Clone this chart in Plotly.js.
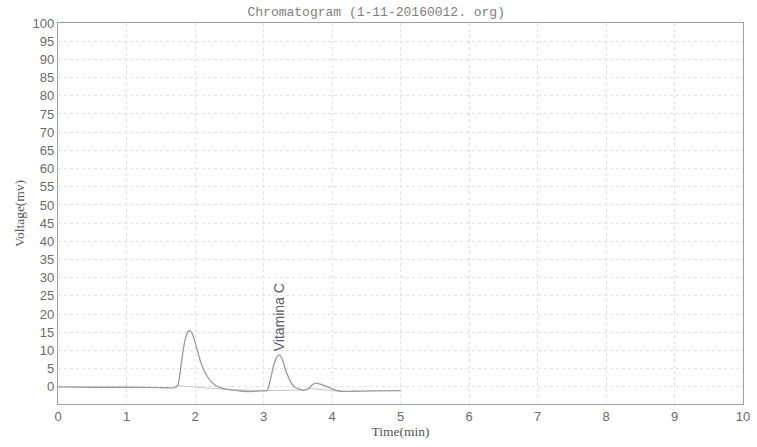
<!DOCTYPE html>
<html><head><meta charset="utf-8">
<script src="https://cdn.plot.ly/plotly-3.0.1.min.js"></script>
<style>html,body{margin:0;padding:0;background:#fff}</style>
</head><body><div id="c" style="width:757px;height:447px"></div>
<script>
var timeMin = [0, 0.5, 1.0, 1.5, 1.7, 1.75, 1.8, 1.85, 1.9, 1.93, 1.97, 2.02, 2.08, 2.15, 2.22, 2.3, 2.4, 2.55, 2.7, 2.8, 2.95, 3.05, 3.1, 3.15, 3.2, 3.23, 3.27, 3.32, 3.38, 3.44, 3.52, 3.6, 3.66, 3.7, 3.75, 3.8, 3.88, 3.96, 4.04, 4.12, 4.3, 4.6, 5.0];
var voltage = [0, -0.1, -0.1, -0.2, -0.2, 0.5, 6.5, 12.5, 15.2, 15.4, 14.2, 11.0, 7.0, 3.8, 1.8, 0.4, -0.4, -0.9, -1.2, -1.3, -1.1, -1.0, 2.0, 6.0, 8.4, 8.8, 7.8, 4.8, 2.0, 0.2, -0.6, -0.9, -0.4, 0.4, 1.0, 0.9, 0.4, -0.2, -0.8, -1.2, -1.2, -1.1, -1.0];
var baseTime = [1.75, 2.55, 3.08, 3.6, 3.66, 4.12];
var baseVolt = [0.3, -0.8, -1.0, -0.9, -0.4, -1.2];
var xTicks = [0,1,2,3,4,5,6,7,8,9,10];
var yTicks = [0,5,10,15,20,25,30,35,40,45,50,55,60,65,70,75,80,85,90,95,100];
var peakLabel = "Vitamina C";
var peakTime = 3.23;

var traces = [
  {x: baseTime, y: baseVolt, mode: 'lines', line: {color: '#c8c8c8', width: 1}, hoverinfo: 'skip'},
  {x: timeMin, y: voltage, mode: 'lines', line: {color: '#9a9a9a', width: 1.3, shape: 'spline', smoothing: 0.6}}
];
var layout = {
  width: 757, height: 447,
  margin: {l: 58, r: 14, t: 23, b: 43},
  paper_bgcolor: '#fff', plot_bgcolor: '#fff',
  showlegend: false,
  title: {text: 'Chromatogram (1-11-20160012. org)', font: {family: 'Liberation Mono, monospace', size: 13, color: '#808080'}, x: 0.497, xanchor: 'center', y: 0.985, yanchor: 'top'},
  xaxis: {range: [0, 10], tickvals: xTicks, ticktext: xTicks.map(String), showgrid: true, gridcolor: '#e2e2e2', griddash: 'dot', gridwidth: 1,
    zeroline: false, showline: true, mirror: true, linecolor: '#a0a0a0', linewidth: 1.2, ticks: '', ticklen: 0,
    tickfont: {family: 'Liberation Sans, Arial, sans-serif', size: 13, color: '#6a6a6a'},
    title: {text: 'Time(min)', font: {family: 'Liberation Serif, serif', size: 13.5, color: '#555'}, standoff: 2}},
  yaxis: {range: [-4.7, 100], tickvals: yTicks, ticktext: yTicks.map(String), showgrid: true, gridcolor: '#e2e2e2', griddash: 'dot', gridwidth: 1,
    zeroline: false, showline: true, mirror: true, linecolor: '#a0a0a0', linewidth: 1.2, ticks: '', ticklen: 0,
    tickfont: {family: 'Liberation Sans, Arial, sans-serif', size: 13, color: '#6a6a6a'},
    title: {text: 'Voltage(mv)', font: {family: 'Liberation Serif, serif', size: 13.5, color: '#555'}, standoff: 4}},
  annotations: [{x: peakTime, y: 9.3, xref: 'x', yref: 'y', text: peakLabel, textangle: -90, showarrow: false, xanchor: 'center', yanchor: 'bottom',
    font: {family: 'Liberation Sans, Arial, sans-serif', size: 14, color: '#5a5a6e'}}]
};
Plotly.newPlot('c', traces, layout, {staticPlot: true, displayModeBar: false});
</script></body></html>
